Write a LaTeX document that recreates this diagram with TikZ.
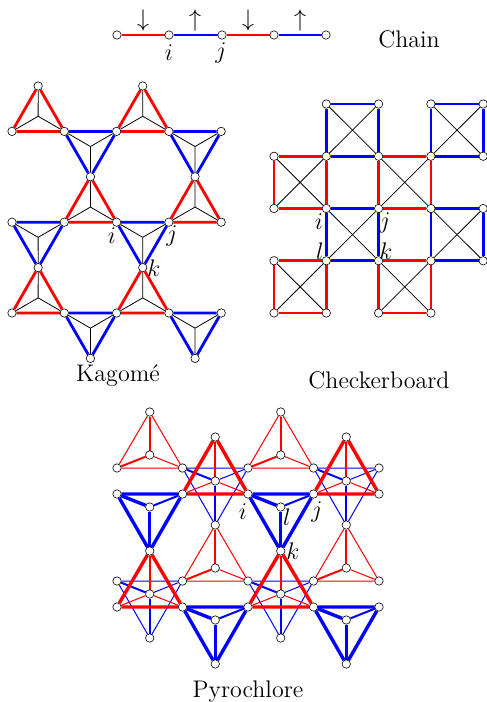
\documentclass[tikz,border=0pt]{standalone}
\usepackage{amsmath,amssymb}
\usetikzlibrary{calc,backgrounds}
\tikzset{
  site/.style={circle,draw=black,line width=0.3pt,fill=white,minimum size=4.2pt,inner sep=0pt},
  lbl/.style={font=\large,inner sep=0pt},
  bond/.style={line width=1.4pt},
  spoke/.style={black,line width=0.4pt},
}
% triangle of the kagome lattice: apex, left, right, colour
\newcommand{\kagtri}[4]{
  \coordinate (mid) at (barycentric cs:#1=1,#2=1,#3=1);
  \draw[bond,#4] (#1)--(#2)--(#3)--(#1);
  \foreach \n in {#1,#2,#3} \draw[spoke] (mid)--(\n);
}
% tetrahedron: colour, rim width, spoke widths (apex, left, right), apex, middle, left, right
\newcommand{\tetra}[9]{
  \draw[#1,line width=#2pt] (#6)--(#8)--(#9)--(#6);
  \draw[#1,line width=#3pt] (#7)--(#6);
  \draw[#1,line width=#4pt] (#7)--(#8);
  \draw[#1,line width=#5pt] (#7)--(#9);
}
\begin{document}
\begin{tikzpicture}[x=0.5pt,y=-0.5pt]
  \useasboundingbox (0,0) rectangle (487,702);
  % chain
  \foreach \n/\x in {1/117,2/169,3/222,4/274,5/326} \node[site] (ch\n) at (\x,35) {};
  \begin{scope}[on background layer]
    \foreach \a/\b/\col in {1/2/red,2/3/blue,3/4/red,4/5/blue} \draw[bond,\col] (ch\a)--(ch\b);
  \end{scope}
  \node[lbl] (up1) at (143,20) {$\downarrow$};
  \node[lbl] (up2) at (195,20) {$\uparrow$};
  \node[lbl] (up3) at (248,20) {$\downarrow$};
  \node[lbl] (up4) at (300,20) {$\uparrow$};
  \node[lbl] (chi) at (169,53) {$i$};
  \node[lbl] (chj) at (221,53) {$j$};
  \node[lbl] (chain) at (409,39) {Chain};
  % kagome
  \foreach \r/\cols in {0/{1,5},1/{0,2,4,6,8},2/{3,7},3/{0,2,4,6,8},4/{1,5},5/{0,2,4,6,8},6/{3,7}}
    \foreach \c in \cols \node[site] (k-\c-\r) at ({12+26.15*\c},{86+45.4*\r}) {};
  \begin{scope}[on background layer]
    \foreach \c/\r [evaluate=\c as \l using int(\c-1),evaluate=\c as \q using int(\c+1),evaluate=\r as \s using int(\r+1)] in {1/0,5/0,3/2,7/2,1/4,5/4}
      {\kagtri{k-\c-\r}{k-\l-\s}{k-\q-\s}{red}}
    \foreach \c/\r [evaluate=\c as \l using int(\c-1),evaluate=\c as \q using int(\c+1),evaluate=\r as \s using int(\r-1)] in {3/2,7/2,1/4,5/4,3/6,7/6}
      {\kagtri{k-\c-\r}{k-\l-\s}{k-\q-\s}{blue}}
  \end{scope}
  \node[lbl] (ki) at (112,236) {$i$};
  \node[lbl] (kj) at (172,236) {$j$};
  \node[lbl] (kk) at (154,268) {$k$};
  \node[lbl] (kagome) at (118,376) {Kagom\'e};
  % checkerboard
  \foreach \r/\cols in {0/{1,2,3,4},1/{0,1,2,3,4},2/{0,1,2,3,4},3/{0,1,2,3,4},4/{0,1,2,3}}
    \foreach \c in \cols \node[site] (c-\c-\r) at ({274+52.3*\c},{104+52.25*\r}) {};
  \begin{scope}[on background layer]
    \foreach \c/\r/\col [evaluate=\c as \q using int(\c+1),evaluate=\r as \s using int(\r+1)] in {1/0/blue,3/0/blue,0/1/red,2/1/red,1/2/blue,3/2/blue,0/3/red,2/3/red} {
      \draw[bond,\col] (c-\c-\r)--(c-\q-\r)--(c-\q-\s)--(c-\c-\s)--(c-\c-\r);
      \draw[spoke] (c-\c-\r)--(c-\q-\s);
      \draw[spoke] (c-\q-\r)--(c-\c-\s);
    }
  \end{scope}
  \node[lbl] (ci) at (319,222) {$i$};
  \node[lbl] (cj) at (385,223) {$j$};
  \node[lbl] (cl) at (320,251) {$l$};
  \node[lbl] (ck) at (386,251) {$k$};
  \node[lbl] (checker) at (379,380) {Checkerboard};
  % pyrochlore
  \foreach \y/\cols in {412/{1,5},437/{3,7},455/{1,5},468/{0,2,4,6,8},481/{3,7},494/{0,2,4,6,8},507/{1,5},525/{3,7},551/{1,5},568/{3,7},581/{0,2,4,6,8},594/{1,5},607/{0,2,4,6,8},620/{3,7},638/{1,5},664/{3,7}}
    \foreach \c in \cols \node[site] (p-\c-\y) at ({117+32.75*\c},\y) {};
  \begin{scope}[on background layer]
    % thin ones lie behind
    \foreach \a/\m/\l/\r in {1-412/1-455/0-468/2-468,5-412/5-455/4-468/6-468,3-525/3-568/2-581/4-581,7-525/7-568/6-581/8-581}
      {\tetra{red}{0.5}{1}{1}{0.5}{p-\a}{p-\m}{p-\l}{p-\r}}
    \foreach \a/\m/\l/\r in {3-525/3-481/2-468/4-468,7-525/7-481/6-468/8-468,1-638/1-594/0-581/2-581,5-638/5-594/4-581/6-581}
      {\tetra{blue}{0.5}{1}{1}{0.5}{p-\a}{p-\m}{p-\l}{p-\r}}
    \foreach \a/\m/\l/\r in {3-437/3-481/2-494/4-494,7-437/7-481/6-494/8-494,1-551/1-594/0-607/2-607,5-551/5-594/4-607/6-607}
      {\tetra{red}{1.7}{1}{0.5}{0.5}{p-\a}{p-\m}{p-\l}{p-\r}}
    \foreach \a/\m/\l/\r in {1-551/1-507/0-494/2-494,5-551/5-507/4-494/6-494,3-664/3-620/2-607/4-607,7-664/7-620/6-607/8-607}
      {\tetra{blue}{1.7}{1.7}{1.7}{1}{p-\a}{p-\m}{p-\l}{p-\r}}
  \end{scope}
  \node[lbl] (pi) at (243,512) {$i$};
  \node[lbl] (pl) at (287,517) {$l$};
  \node[lbl] (pj) at (317,512) {$j$};
  \node[lbl] (pk) at (293,551) {$k$};
  \node[lbl] (pyro) at (248,692) {Pyrochlore};
\end{tikzpicture}
\end{document}
